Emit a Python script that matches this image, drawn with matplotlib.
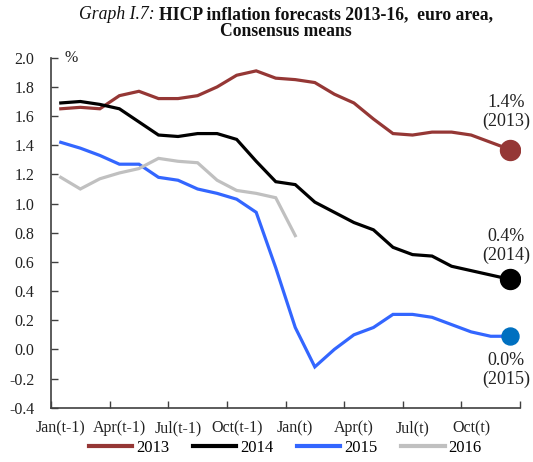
import matplotlib
matplotlib.use("Agg")
import matplotlib.pyplot as plt
import numpy as np

plt.rcParams['font.family'] = ['Liberation Serif', 'DejaVu Serif']
plt.rcParams['axes.unicode_minus'] = False

months = list(range(24))
tick_labels = ["Jan(t-1)", "Apr(t-1)", "Jul(t-1)", "Oct(t-1)", "Jan(t)", "Apr(t)", "Jul(t)", "Oct(t)"]

s2013 = [1.65, 1.66, 1.65, 1.74, 1.77, 1.72, 1.72, 1.74, 1.80, 1.88, 1.91, 1.86,
         1.85, 1.83, 1.75, 1.69, 1.58, 1.48, 1.47, 1.49, 1.49, 1.47, 1.42, 1.37]
s2014 = [1.69, 1.70, 1.68, 1.65, 1.56, 1.47, 1.46, 1.48, 1.48, 1.44, 1.29, 1.15,
         1.13, 1.01, 0.94, 0.87, 0.82, 0.70, 0.65, 0.64, 0.57, 0.54, 0.51, 0.48]
s2015 = [1.42, 1.38, 1.33, 1.27, 1.27, 1.18, 1.16, 1.10, 1.07, 1.03, 0.94, 0.56,
         0.15, -0.12, 0.00, 0.10, 0.15, 0.24, 0.24, 0.22, 0.17, 0.12, 0.09, 0.09]
s2016 = [1.18, 1.10, 1.17, 1.21, 1.24, 1.31, 1.29, 1.28, 1.16, 1.09, 1.07, 1.04, 0.78]

series = [("2013", s2013, "#953735"), ("2014", s2014, "#000000"),
          ("2015", s2015, "#3366FF"), ("2016", s2016, "#C0C0C0")]
end_dots = [("2013", s2013, "#953735", 20, "1.4%\n(2013)", 14),
            ("2014", s2014, "#000000", 20, "0.4%\n(2014)", 11),
            ("2015", s2015, "#0070C0", 17, "0.0%\n(2015)", -11)]

fig = plt.figure(figsize=(5.33, 4.62), dpi=100)
ax = fig.add_axes([0.0957, 0.1175, 0.9756 - 0.0957, 0.875 - 0.1175])

for name, vals, col in series:
    ax.plot(months[:len(vals)], vals, color=col, lw=2.3, label=name, solid_joinstyle='miter')

for name, vals, col, ms, txt, off in end_dots:
    ax.plot([months[len(vals) - 1]], [vals[-1]], 'o', color=col, ms=ms * 0.72, zorder=5)
    ax.annotate(txt, (months[len(vals) - 1], vals[-1]), xytext=(-3, off), textcoords='offset points',
                ha='center', va='bottom' if off > 0 else 'top', fontsize=13, color='#222222',
                linespacing=1.15)

ax.set_xlim(-0.5, 23.5)
ax.set_ylim(-0.4, 2.0)
ax.set_yticks(np.arange(-0.4, 2.01, 0.2))
ax.set_yticklabels([f"{v:.1f}" for v in np.arange(-0.4, 2.01, 0.2)])
ax.set_xticks(np.arange(0, 24, 3))
ax.set_xticklabels(tick_labels)
ax.set_xticks(np.arange(-0.5, 23.6, 3), minor=True)
ax.tick_params(axis='x', which='major', length=0, pad=9, labelsize=11.5, colors='#222222')
ax.tick_params(axis='x', which='minor', direction='in', length=5, width=1, color='#404040')
ax.tick_params(axis='y', direction='in', length=5, width=1, pad=12, labelsize=11.5, colors='#222222')
ax.tick_params(axis='y', color='#404040')

for sp in ['top', 'right']:
    ax.spines[sp].set_visible(False)
for sp in ['left', 'bottom']:
    ax.spines[sp].set_color('#404040')
    ax.spines[sp].set_linewidth(1.2)

ax.text(0.55, 2.0, "%", ha='center', va='center', fontsize=11.5, color='#222222')

leg = ax.legend(loc='upper center', bbox_to_anchor=(0.5, -0.083), ncol=4, frameon=False,
                fontsize=12, handlelength=2.6, handletextpad=0.25, columnspacing=1.4,
                borderaxespad=0, borderpad=0.2)
for l in leg.get_lines():
    l.set_linewidth(3)

# Title: italic part + bold part, centered on axes
fig.canvas.draw()
r = fig.canvas.get_renderer()
ty = 1 - 19 / 462
tfs = 12.7
t1 = fig.text(0, ty, "Graph I.7: ", style='italic', fontsize=tfs, va='baseline', color='#111111')
t2 = fig.text(0, ty, "HICP inflation forecasts 2013-16,  euro area,", weight='bold', fontsize=tfs,
              va='baseline', color='#111111')
w1 = t1.get_window_extent(r).width
w2 = t2.get_window_extent(r).width
cx = (0.0957 + 0.9756) / 2 * 533
x0 = cx - (w1 + w2) / 2
t1.set_x(x0 / 533)
t2.set_x((x0 + w1) / 533)
fig.text(cx / 533, 1 - 36 / 462, "Consensus means", weight='bold', fontsize=tfs, va='baseline',
         ha='center', color='#111111')

fig.savefig("out.png", dpi=100)
